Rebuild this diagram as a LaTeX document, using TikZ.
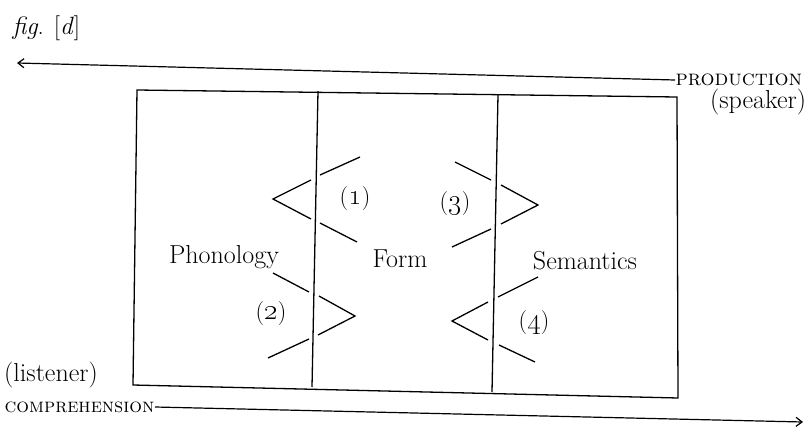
\documentclass[tikz,border=0pt]{standalone}
\usepackage{fix-cm}
\usetikzlibrary{arrows.meta}
\newcommand{\osn}[1]{{\fontsize{29}{30}\selectfont\oldstylenums{#1}}}
\begin{document}
\begin{tikzpicture}[x=1pt,y=-1pt,line width=1.3pt,line join=miter,
  lbl/.style={font=\fontsize{26}{30}\selectfont,inner sep=0pt},
  num/.style={font=\fontsize{24}{28}\selectfont,inner sep=0pt},
  capsl/.style={font=\fontsize{22}{24}\selectfont\scshape,inner sep=0pt},
  capss/.style={font=\fontsize{20}{22}\selectfont\scshape,inner sep=0pt},
  flow/.style={line width=1.2pt,-{Straight Barb[length=6pt,width=9pt]}}]
\useasboundingbox (0,0) rectangle (809,434);
% title
\node[lbl,anchor=west,font=\fontsize{25}{28}\selectfont] (fig) at (12,28) {\textit{fig}. [\textit{d}]};
% top arrow
\node[capsl,anchor=west] (prod) at (675,80) {production};
\node[lbl] (spk) at (758,102) {(speaker)};
\coordinate (pend) at (17,63);
\draw[flow] (prod.west) -- (pend);
% bottom arrow
\node[lbl] (lis) at (51,375) {(listener)};
\node[capss,anchor=east] (comp) at (155,407) {comprehension};
\coordinate (cend) at (803,422);
\draw[flow] (comp.east) -- (cend);
% box
\coordinate (tl) at (137,90);
\coordinate (tr) at (677,97);
\coordinate (br) at (678,398);
\coordinate (bl) at (133,385);
\draw (tl) -- (tr) -- (br) -- (bl) -- cycle;
% dividers
\coordinate (d1t) at (318,91);
\coordinate (d1b) at (312,387);
\coordinate (d2t) at (498,95);
\coordinate (d2b) at (492,392);
\draw (d1t) -- (d1b);
\draw (d2t) -- (d2b);
% chevron (1)
\draw (360,157) -- (320,175);
\draw (311,180) -- (273,199) -- (311,219);
\draw (320,223) -- (357,242);
% chevron (3)
\draw (455,162) -- (491,180);
\draw (501,185) -- (538,205) -- (501,224);
\draw (491,229) -- (452,247);
% chevron (2)
\draw (273,273) -- (309,292);
\draw (319,296) -- (355,316) -- (318,335);
\draw (309,339) -- (268,358);
% chevron (4)
\draw (538,277) -- (498,297);
\draw (488,302) -- (452,321) -- (488,340);
\draw (499,345) -- (535,362);
% labels
\node[lbl] (pho) at (224,257) {Phonology};
\node[lbl] (form) at (400,259) {Form};
\node[lbl] (sem) at (585,261) {Semantics};
\node[num] (n1) at (355,199) {(\osn{1})};
\node[num] (n3) at (455,204) {(\osn{3})};
\node[num] (n2) at (271,314) {(\osn{2})};
\node[num] (n4) at (534,323) {(\osn{4})};
\end{tikzpicture}
\end{document}
